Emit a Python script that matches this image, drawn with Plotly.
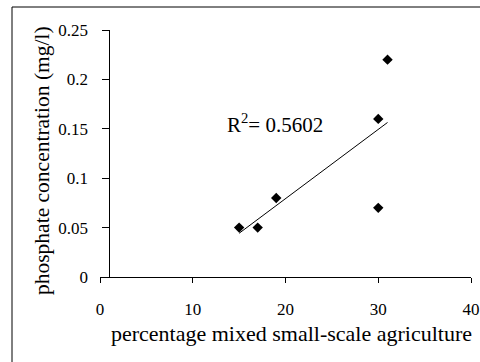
import numpy as np
import plotly.graph_objects as go

# Data
pct_agri = [15, 17, 19, 30, 30, 31]
phosphate = [0.05, 0.05, 0.08, 0.16, 0.07, 0.22]
x_ticks = [0, 10, 20, 30, 40]
y_ticks = [0, 0.05, 0.1, 0.15, 0.2, 0.25]
y_tick_labels = ["0", "0.05", "0.1", "0.15", "0.2", "0.25"]
x_title = "percentage mixed small-scale agriculture"
y_title = "phosphate concentration (mg/l)"
r2_text = "R<sup>2</sup>= 0.5602"

# linear trendline
slope, intercept = np.polyfit(pct_agri, phosphate, 1)
tx = [min(pct_agri), max(pct_agri)]
ty = [slope * v + intercept for v in tx]

FONT = "Liberation Serif, Times New Roman, serif"
W, H = 480, 362
L, R, T, B = 100, 9, 30, 85
pw, ph = W - L - R, H - T - B

fig = go.Figure()
fig.add_trace(go.Scatter(x=tx, y=ty, mode="lines",
                         line=dict(color="black", width=1), hoverinfo="skip"))
fig.add_trace(go.Scatter(x=pct_agri, y=phosphate, mode="markers",
                         marker=dict(symbol="diamond", size=8, color="black")))

def px2paper_x(p):
    return (p - L) / pw

def px2paper_y(p):
    return (H - B - p) / ph

fig.add_shape(type="rect", xref="paper", yref="paper",
              x0=px2paper_x(12), x1=px2paper_x(495),
              y0=px2paper_y(375), y1=px2paper_y(7),
              line=dict(color="black", width=1), fillcolor="rgba(0,0,0,0)")

ann = dict(xref="paper", yref="paper", showarrow=False,
           xanchor="center", yanchor="middle")
fig.add_annotation(x=px2paper_x(275), y=px2paper_y(123), text=r2_text,
                   font=dict(family=FONT, size=21, color="black"), **ann)
fig.add_annotation(x=px2paper_x(291.5), y=px2paper_y(333), text=x_title,
                   font=dict(family=FONT, size=22, color="black"), **ann)
fig.add_annotation(x=px2paper_x(42), y=px2paper_y(161), text=y_title,
                   textangle=-90,
                   font=dict(family=FONT, size=21.5, color="black"), **ann)

tickfont = dict(family=FONT, size=17, color="black")
fig.update_layout(
    width=W, height=H,
    margin=dict(l=L, r=R, t=T, b=B, autoexpand=False),
    paper_bgcolor="white", plot_bgcolor="white",
    showlegend=False,
    font=dict(family=FONT, size=17, color="black"),
    xaxis=dict(range=[0, 40], tickvals=x_ticks, ticks="outside", ticklen=5,
               tickcolor="black", showline=True, linecolor="black", linewidth=1,
               showgrid=False, zeroline=False, automargin=False,
               ticklabelstandoff=12, ticklabeloverflow="allow", tickfont=tickfont),
    yaxis=dict(range=[0, 0.25], tickvals=y_ticks, ticktext=y_tick_labels,
               ticks="outside", ticklen=7, tickcolor="black",
               showline=True, linecolor="black", linewidth=1,
               showgrid=False, zeroline=False, automargin=False,
               anchor="free", position=1 / 40, ticklabelstandoff=11,
               ticklabeloverflow="allow", tickfont=tickfont),
)

fig.write_html("out.html", config={"displayModeBar": False},
               post_script="document.body.style.margin='0';")
